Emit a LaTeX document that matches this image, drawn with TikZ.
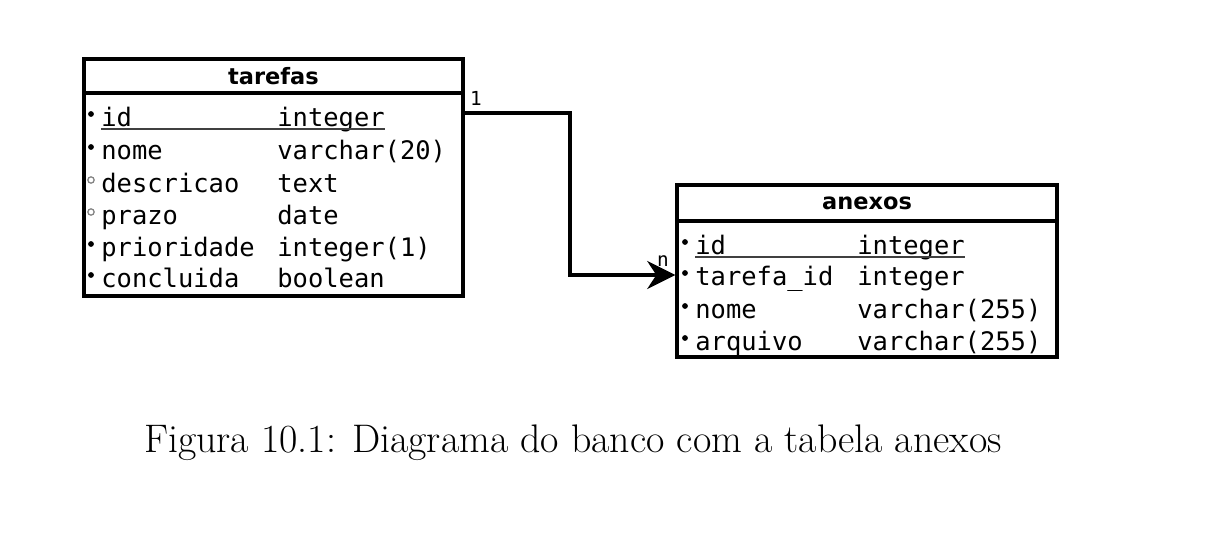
\documentclass[tikz,border=0pt]{standalone}
\usepackage{fontspec}
\setmainfont{Latin Modern Roman}
\newfontfamily\monofont{DejaVu Sans Mono}
\newfontfamily\titlefont{DejaVu Sans}
\usetikzlibrary{arrows.meta}

\tikzstyle{tabela}=[draw,line width=2pt,inner sep=0pt]
\tikzstyle{cabecalho}=[tabela,font=\titlefont\bfseries\fontsize{12.8}{14}\selectfont]
\tikzstyle{campo}=[anchor=base west,inner sep=0pt,font=\monofont\fontsize{14.5}{16}\selectfont]
\tikzstyle{obrig}=[circle,fill,inner sep=0pt,minimum size=3.3pt]
\tikzstyle{opcional}=[circle,draw=gray,line width=0.7pt,inner sep=0pt,minimum size=3.6pt]
\tikzstyle{chave}=[line width=1.1pt,draw=black!75]
\tikzstyle{rel}=[draw,line width=1.8pt,-{Stealth[length=16pt,width=16pt]}]
\tikzstyle{card}=[anchor=base,inner sep=0pt,font=\monofont\fontsize{11}{12}\selectfont]

\begin{document}
\begin{tikzpicture}[x=0.02cm,y=-0.02cm]
	\useasboundingbox (0,0) rectangle (1218,558);

	% tabela tarefas
	\node [tabela, minimum width=7.58cm, minimum height=4.74cm] (tarefas) at (273.5,177.5) {};
	\node [cabecalho, minimum width=7.58cm, minimum height=0.68cm] (htarefas) at (273.5,76) {tarefas};
	\node [obrig]    (bt1) at (91,114) {};
	\node [obrig]    (bt2) at (91,147) {};
	\node [opcional] (bt3) at (91,180) {};
	\node [opcional] (bt4) at (91,212) {};
	\node [obrig]    (bt5) at (91,244) {};
	\node [obrig]    (bt6) at (91,275) {};
	\node [campo] (tid)    at (101,126) {id};
	\node [campo] (tnome)  at (101,159) {nome};
	\node [campo] (tdesc)  at (101,192) {descricao};
	\node [campo] (tprazo) at (101,224) {prazo};
	\node [campo] (tprio)  at (101,256) {prioridade};
	\node [campo] (tconc)  at (101,287) {concluida};
	\node [campo] (tidt)    at (277,126) {integer};
	\node [campo] (tnomet)  at (277,159) {varchar(20)};
	\node [campo] (tdesct)  at (277,192) {text};
	\node [campo] (tprazot) at (277,224) {date};
	\node [campo] (tpriot)  at (277,256) {integer(1)};
	\node [campo] (tconct)  at (277,287) {boolean};
	\draw [chave] (tid.west |- 0,129) -- (tidt.east |- 0,129);

	% tabela anexos
	\node [tabela, minimum width=7.6cm, minimum height=3.44cm] (anexos) at (867,271) {};
	\node [cabecalho, minimum width=7.6cm, minimum height=0.72cm] (hanexos) at (867,203) {anexos};
	\node [obrig] (ba1) at (685,242) {};
	\node [obrig] (ba2) at (685,273) {};
	\node [obrig] (ba3) at (685,306) {};
	\node [obrig] (ba4) at (685,338) {};
	\node [campo] (aid)   at (695,254) {id};
	\node [campo] (atar)  at (695,285) {tarefa\_id};
	\node [campo] (anome) at (695,318) {nome};
	\node [campo] (aarq)  at (695,350) {arquivo};
	\node [campo] (aidt)   at (857,254) {integer};
	\node [campo] (atart)  at (857,285) {integer};
	\node [campo] (anomet) at (857,318) {varchar(255)};
	\node [campo] (aarqt)  at (857,350) {varchar(255)};
	\draw [chave] (aid.west |- 0,257) -- (aidt.east |- 0,257);

	% relacionamento
	\coordinate (dobra) at (570,113);
	\coordinate (chegada) at (570,275);
	\draw [rel] (tarefas.east |- dobra) -- (dobra) -- (chegada) -- (anexos.west |- chegada);
	\node [card] (um) at (476,105) {1};
	\node [card] (ene) at (663,266) {n};

	% legenda
	\node [anchor=base, inner sep=0pt, font=\fontsize{22.7}{26}\selectfont] (legenda) at (573,452) {Figura 10.1: Diagrama do banco com a tabela anexos};
\end{tikzpicture}
\end{document}
